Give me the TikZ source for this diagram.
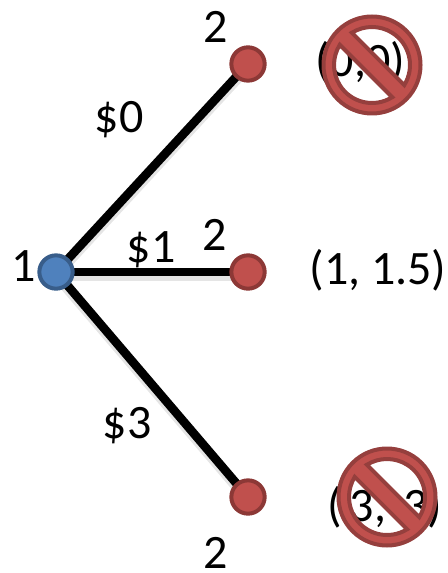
\documentclass[tikz,border=0pt]{standalone}
\usepackage{fontspec}
\setmainfont{Carlito}
\definecolor{bluefill}{HTML}{4F81BD}
\definecolor{blueedge}{HTML}{385D8A}
\definecolor{redfill}{HTML}{C0504D}
\definecolor{rededge}{HTML}{8C3836}
\definecolor{signedge}{HTML}{953F3D}
\tikzset{
  px/.style={x=0.75pt,y=-0.75pt},
  lbl/.style={font=\fontsize{36}{38}\selectfont,inner sep=0pt,text=black},
  gamenode/.style={circle,draw,line width=3pt,minimum size=25pt,inner sep=0pt},
  bluenode/.style={gamenode,fill=bluefill,draw=blueedge},
  rednode/.style={gamenode,fill=redfill,draw=rededge},
  branch/.style={line width=6.5pt,black},
  branchshadow/.style={line width=7pt,black!10},
  pics/nosign/.style={code={
    \begin{scope}[rotate=-45]
      \draw[fill=redfill,draw=signedge,line width=3pt,even odd rule]
        (0,0) circle[radius=48.5]
        (13:38) arc[start angle=13,end angle=167,radius=38] -- cycle
        (-13:38) arc[start angle=-13,end angle=-167,radius=38] -- cycle;
    \end{scope}
  }}
}
\begin{document}
\begin{tikzpicture}[px]
\useasboundingbox (0,0) rectangle (448,573);
\node[lbl] (p00) at (360,62) {(0,0)};
\node[lbl] (p33) at (385,507) {(\hspace{6pt}3,\hspace{13pt}3)};
\node[lbl] (p11) at (378,270) {(1, 1.5)};
\coordinate (a) at (56,272);
\coordinate (b) at (248,64);
\coordinate (c) at (248,272);
\coordinate (d) at (248,497);
\draw[branchshadow] ([yshift=-3pt]a) -- ([yshift=-3pt]b);
\draw[branchshadow] ([yshift=-3pt]a) -- ([yshift=-3pt]c);
\draw[branchshadow] ([yshift=-3pt]a) -- ([yshift=-3pt]d);
\node[lbl] (l1) at (151,250) {\$1};
\draw[branch] (a) -- (b);
\draw[branch] (a) -- (c);
\draw[branch] (a) -- (d);
\node[bluenode] (n1) at (a) {};
\node[rednode] (n2) at (b) {};
\node[rednode] (n3) at (c) {};
\node[rednode] (n4) at (d) {};
\node[lbl] (t1) at (216,27) {2};
\node[lbl] (t2) at (215,235) {2};
\node[lbl] (t3) at (216,553) {2};
\node[lbl] (t4) at (24,266) {1};
\node[lbl] (l0) at (119,120) {\$0};
\node[lbl] (l3) at (127,426) {\$3};
\pic at (372,65) {nosign};
\pic at (387,497) {nosign};
\end{tikzpicture}
\end{document}
